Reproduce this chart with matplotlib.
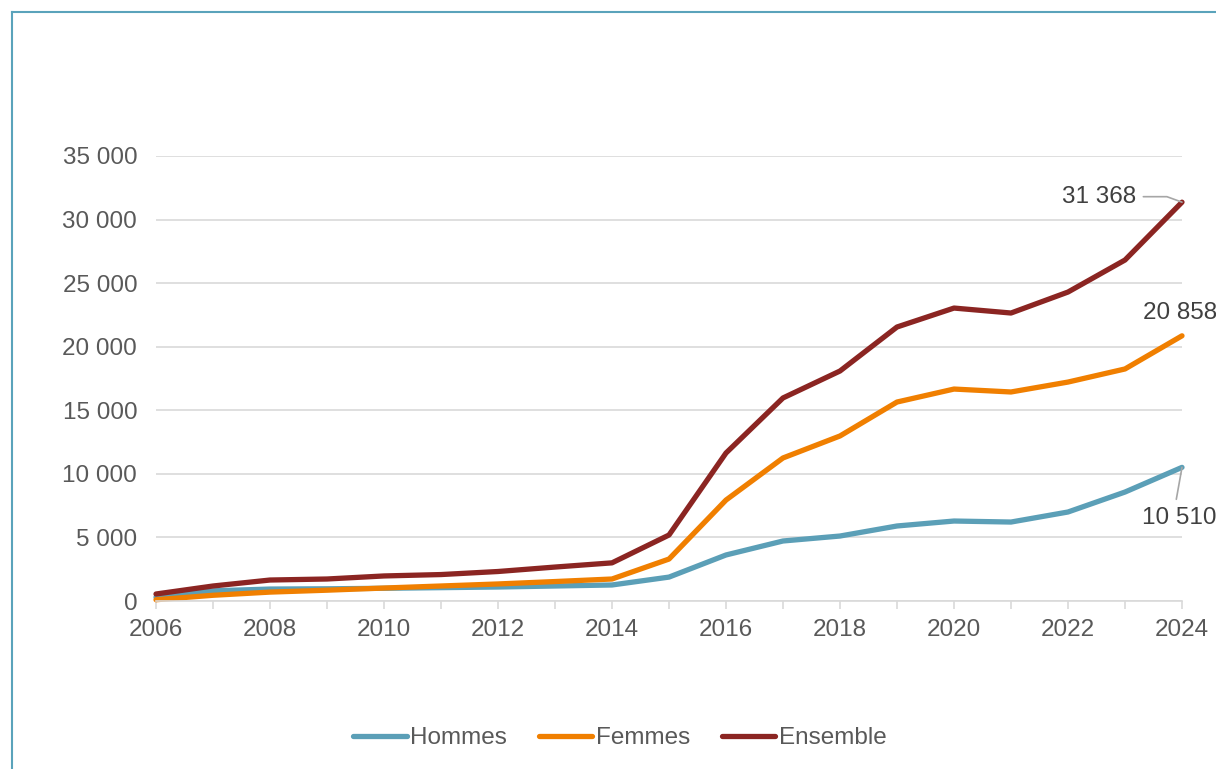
import numpy as np
import matplotlib.pyplot as plt
from matplotlib.lines import Line2D

plt.rcParams['font.family'] = ['Liberation Sans', 'DejaVu Sans']

years = list(range(2006, 2025))
hommes = [300, 800, 940, 960, 1000, 1050, 1100, 1180, 1260, 1880, 3620, 4720,
          5110, 5900, 6290, 6210, 7000, 8570, 10510]
femmes = [100, 450, 700, 850, 1020, 1180, 1340, 1530, 1730, 3300, 7940, 11250,
          12980, 15650, 16670, 16440, 17220, 18250, 20858]
ensemble = [550, 1180, 1650, 1730, 1970, 2080, 2320, 2670, 3000, 5190, 11640, 15970,
            18090, 21550, 23040, 22650, 24300, 26820, 31368]

c_h = '#5B9FB7'
c_f = '#F07F00'
c_e = '#8B2522'
txt = '#595959'
fs = 17.5

fig = plt.figure(figsize=(12.16, 7.69), dpi=100)
ax = fig.add_axes([156/1216, 1 - 601/769, (1182 - 156)/1216, (601 - 156)/769])

ax.plot(years, hommes, color=c_h, lw=3.8, label='Hommes', solid_capstyle='round', clip_on=False)
ax.plot(years, femmes, color=c_f, lw=3.8, label='Femmes', solid_capstyle='round', clip_on=False)
ax.plot(years, ensemble, color=c_e, lw=3.8, label='Ensemble', solid_capstyle='round', clip_on=False)

ax.set_xlim(2006, 2024)
ax.set_ylim(0, 35000)
ax.set_yticks(np.arange(0, 35001, 5000))
ax.set_yticklabels([f'{v:,}'.replace(',', ' ') for v in range(0, 35001, 5000)])
ax.set_xticks(range(2006, 2025, 2))
ax.set_xticks(years, minor=True)
ax.grid(axis='y', color='#D9D9D9', lw=1.2)
ax.set_axisbelow(True)
for s in ['top', 'right', 'left']:
    ax.spines[s].set_visible(False)
ax.spines['bottom'].set_color('#D9D9D9')
ax.spines['bottom'].set_linewidth(1.2)
ax.tick_params(axis='y', length=0, labelsize=fs, labelcolor=txt, pad=13.5)
ax.tick_params(axis='x', which='both', length=6, color='#D9D9D9', width=1.2,
               labelsize=fs, labelcolor=txt, pad=7)

# data labels
ax.annotate('31 368', xy=(2024, ensemble[-1]), xytext=(2023.2, 31800),
            ha='right', va='center', fontsize=fs, color='#404040',
            arrowprops=dict(arrowstyle='-', color='#A6A6A6', lw=1.2,
                            connectionstyle='angle,angleA=0,angleB=160,rad=0',
                            shrinkA=3, shrinkB=0))
ax.text(2023.96, 22650, '20 858', ha='center', va='center', fontsize=fs, color='#404040')
ax.annotate('', xy=(2024, hommes[-1]), xytext=(2023.9, 8000),
            arrowprops=dict(arrowstyle='-', color='#A6A6A6', lw=1.2, shrinkA=0, shrinkB=0))
ax.text(2023.96, 6530, '10 510', ha='center', va='center', fontsize=fs, color='#404040')

ax.legend(loc='center', bbox_to_anchor=(620/1216, 1 - 738/769), bbox_transform=fig.transFigure,
          ncol=3, frameon=False, fontsize=fs, labelcolor=txt, handlelength=2.2,
          handletextpad=0.15, columnspacing=1.3)

# frame around the figure
fig.add_artist(Line2D([12/1216, 1], [1 - 12/769, 1 - 12/769], color='#5AA3BB', lw=1.5))
fig.add_artist(Line2D([12/1216, 12/1216], [0, 1 - 12/769], color='#5AA3BB', lw=1.5))

fig.savefig('out.png', dpi=100)
